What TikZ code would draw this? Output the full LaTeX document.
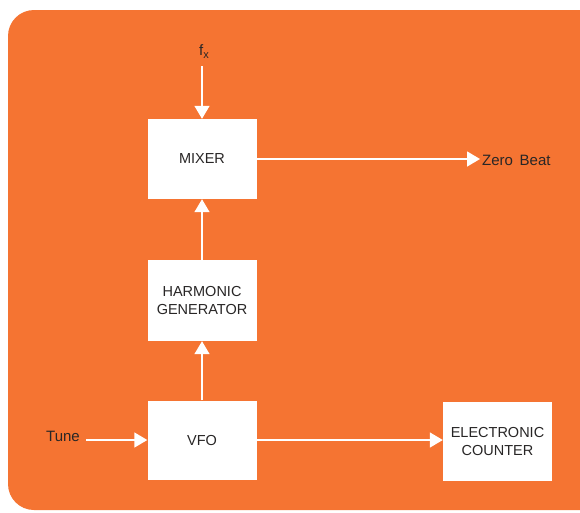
\documentclass[tikz,border=0pt]{standalone}
\usepackage{fontspec}
\setmainfont{Liberation Sans}
\usetikzlibrary{arrows.meta}
\definecolor{bg}{RGB}{245,116,50}
\definecolor{txt}{RGB}{40,38,38}
\tikzset{
  blk/.style={fill=white, draw=none, minimum width=109pt, minimum height=80pt, inner sep=0pt, align=center, text=txt, font=\fontsize{14.5}{18.5}\selectfont},
  lbl/.style={text=txt, font=\fontsize{15}{18}\selectfont, inner sep=0pt},
  conn/.style={draw=white, line width=1.5pt, -{Triangle[length=13pt,width=15pt,fill=white]}},
}
\begin{document}
\begin{tikzpicture}[x=1pt,y=-1pt]
\useasboundingbox (0,0) rectangle (580,512);
\clip (0,0) rectangle (580,512);
\fill[white] (0,0) rectangle (580,512);
\fill[bg, rounded corners=26pt] (8,10) rectangle (620,510);

\node[blk] (mixer) at (202,159) {MIXER};
\node[blk, minimum height=81pt] (harm) at (202,300.5) {HARMONIC\\GENERATOR};
\node[blk, minimum height=79pt] (vfo) at (202,440) {VFO};
\node[blk, minimum height=79pt] (ctr) at (497.5,441.5) {ELECTRONIC\\COUNTER};

\node[lbl] (fx) at (204,52) {f{\fontsize{11}{11}\selectfont\raisebox{-3pt}{x}}};
\coordinate (fxa) at (202,66);
\node[lbl, anchor=east] (tune) at (80,436) {Tune};
\coordinate (tunea) at (86,440);
\coordinate (zb) at (480,159);
\node[lbl, anchor=west] (zero) at (482,160) {Zero\, Beat};

\draw[conn] (fxa) -- (mixer.north);
\draw[conn] (mixer.east) -- (zb);
\draw[conn] (harm.north) -- (mixer.south);
\draw[conn] (vfo.north) -- (harm.south);
\draw[conn] (tunea) -- (vfo.west);
\draw[conn] (vfo.east) -- (vfo.east -| ctr.west);
\end{tikzpicture}
\end{document}
